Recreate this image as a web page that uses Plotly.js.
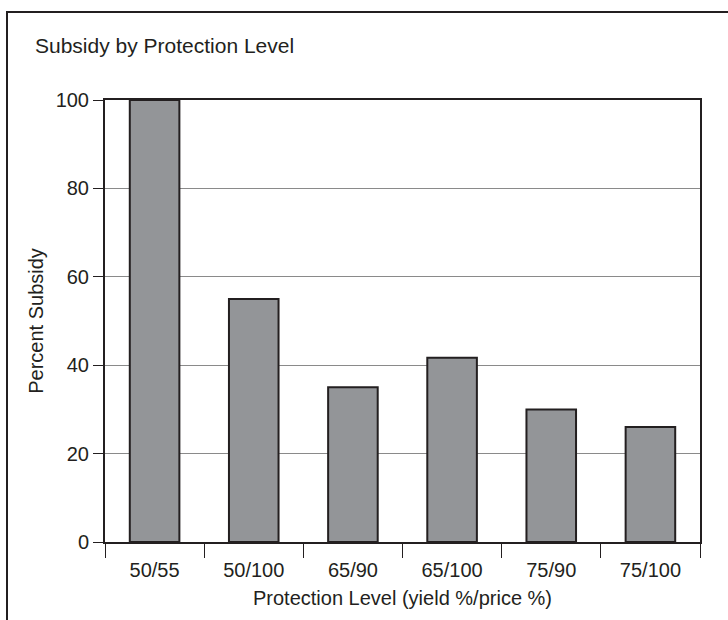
<!DOCTYPE html>
<html>
<head>
<meta charset="utf-8">
<script src="https://cdn.plot.ly/plotly-3.0.1.min.js"></script>
<style>
  html, body { margin: 0; padding: 0; background: #fff; }
  #wrap { position: relative; width: 728px; height: 620px; overflow: hidden; }
  #frame { position: absolute; left: 6px; top: 11px; width: 740px; height: 640px;
           border-left: 2px solid #231f20; border-top: 2px solid #231f20; pointer-events: none; }
  #chart { position: absolute; left: 0; top: 0; width: 728px; height: 620px; }
</style>
</head>
<body>
<div id="wrap">
  <div id="chart"></div>
  <div id="frame"></div>
</div>
<script>
const categories = ["50/55", "50/100", "65/90", "65/100", "75/90", "75/100"];
const subsidyPercent = [100, 55, 35, 41.7, 30, 26];
const yTicks = [0, 20, 40, 60, 80, 100];

const fontFamily = "Liberation Sans, Arial, Helvetica, sans-serif";
const ink = "#231f20";

const trace = {
  type: "bar",
  x: categories,
  y: subsidyPercent,
  marker: { color: "#939598", line: { color: ink, width: 2 } },
  hoverinfo: "x+y"
};

const layout = {
  width: 728,
  height: 620,
  margin: { l: 105, r: 28, t: 100, b: 78 },
  paper_bgcolor: "#fff",
  plot_bgcolor: "#fff",
  showlegend: false,
  bargap: 0.5,
  font: { family: fontFamily, size: 20, color: ink },
  title: {
    text: "Subsidy by Protection Level",
    x: 35 / 728, xanchor: "left",
    y: 1 - 46 / 620, yanchor: "middle",
    font: { family: fontFamily, size: 21, color: ink }
  },
  xaxis: {
    type: "category",
    tickson: "boundaries",
    ticks: "outside",
    ticklen: 14,
    tickwidth: 1,
    tickcolor: ink,
    ticklabelstandoff: 9,
    showline: true,
    linecolor: ink,
    linewidth: 2,
    mirror: true,
    showgrid: false,
    tickfont: { family: fontFamily, size: 20, color: ink },
    title: { text: "Protection Level (yield %/price %)", standoff: 11,
             font: { family: fontFamily, size: 20, color: ink } }
  },
  yaxis: {
    range: [0, 100],
    tickvals: yTicks,
    ticktext: yTicks.map(String),
    ticks: "outside",
    ticklen: 10,
    tickwidth: 1,
    tickcolor: ink,
    showline: true,
    linecolor: ink,
    linewidth: 2,
    mirror: true,
    showgrid: true,
    gridcolor: "#8a8a8a",
    gridwidth: 1,
    zeroline: false,
    tickfont: { family: fontFamily, size: 20, color: ink },
    title: { text: "Percent Subsidy", standoff: 7,
             font: { family: fontFamily, size: 20, color: ink } }
  }
};

Plotly.newPlot("chart", [trace], layout, { staticPlot: true, displayModeBar: false });
</script>
</body>
</html>
